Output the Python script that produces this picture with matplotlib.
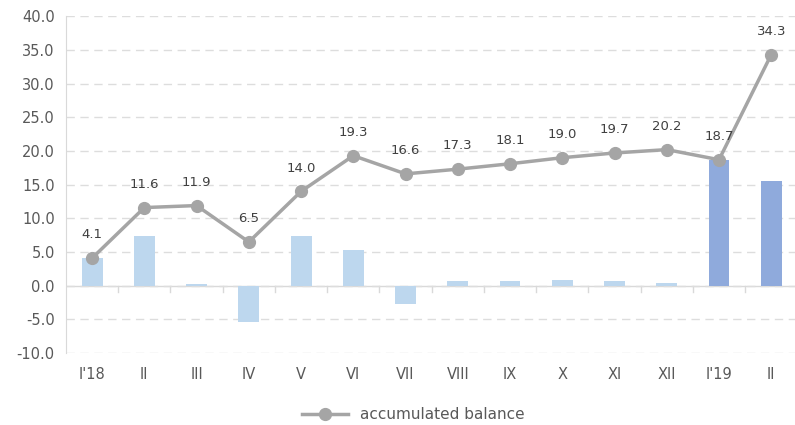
import numpy as np
from matplotlib import pyplot as plt
from matplotlib.lines import Line2D

months = ["I'18", "II", "III", "IV", "V", "VI", "VII", "VIII", "IX", "X", "XI", "XII", "I'19", "II"]
monthly = [4.1, 7.4, 0.3, -5.4, 7.4, 5.3, -2.7, 0.7, 0.7, 0.9, 0.7, 0.4, 18.7, 15.6]
accumulated = [4.1, 11.6, 11.9, 6.5, 14.0, 19.3, 16.6, 17.3, 18.1, 19.0, 19.7, 20.2, 18.7, 34.3]
is_2019 = [False] * 12 + [True] * 2

fig = plt.figure(figsize=(7.95, 4.25), dpi=100)
ax = fig.add_axes([0.083, 0.169, 0.92, 0.793])

x = np.arange(len(months))
colors = ["#8FAADC" if new else "#BDD7EE" for new in is_2019]
ax.bar(x, monthly, width=0.4, color=colors, zorder=2)

ax.plot(x, accumulated, color="#A5A5A5", lw=2.5, marker="o", markersize=8.5, zorder=3)
for xi, val in zip(x, accumulated):
    ax.annotate(f"{val:.1f}", (xi, val), xytext=(0, 12), textcoords="offset points",
                ha="center", va="bottom", fontsize=9.5, color="#404040")

ax.set_xlim(-0.5, len(months) - 0.5)
ax.set_ylim(-10, 40)
ax.set_yticks(np.arange(-10, 41, 5))
ax.set_yticklabels([f"{v:.1f}" for v in np.arange(-10, 41, 5)])
ax.set_xticks(x)
ax.set_xticklabels(months)
ax.tick_params(axis="both", length=0, labelsize=10.5, colors="#595959")
ax.tick_params(axis="x", pad=10)
ax.tick_params(axis="y", pad=8)

ax.grid(axis="y", color="#DDDDDD", linestyle=(0, (6, 4)), lw=1, zorder=0)
for side in ("top", "right", "bottom"):
    ax.spines[side].set_visible(False)
ax.spines["left"].set_color("#D9D9D9")

# category axis crossing at zero, with ticks between categories
ax.axhline(0, color="#D9D9D9", lw=1, zorder=1)
for b in np.arange(0.5, len(months) - 0.5, 1):
    ax.plot([b, b], [0, -0.9], color="#D9D9D9", lw=1, zorder=1, clip_on=False)

handle = Line2D([], [], color="#A5A5A5", lw=2.5, marker="o", markersize=8.5)
fig.legend([handle], ["accumulated balance"], loc="center", bbox_to_anchor=(0.52, 0.025),
           frameon=False, fontsize=11, labelcolor="#595959", handlelength=3)

fig.savefig("out.png", dpi=100)
